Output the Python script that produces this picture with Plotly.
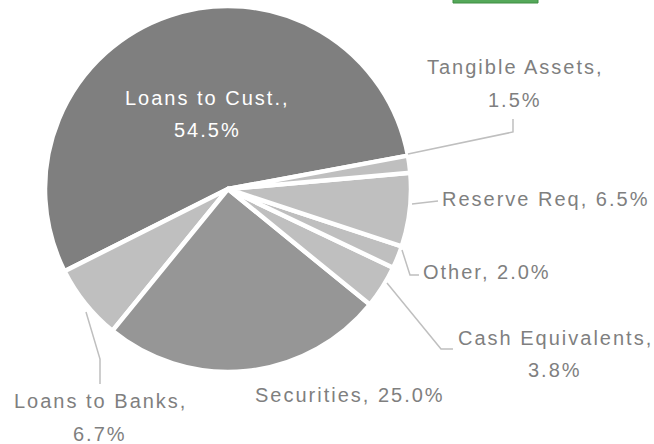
import plotly.graph_objects as go

W, H = 654, 444

# Asset mix (percent of total), listed counter-clockwise from the big slice
categories = ["Loans to Cust.", "Loans to Banks", "Securities", "Cash Equivalents",
              "Other", "Reserve Req", "Tangible Assets"]
shares = [54.5, 6.7, 25.0, 3.8, 2.0, 6.5, 1.5]
slice_colors = ["#7f7f7f", "#bfbfbf", "#969696", "#bfbfbf", "#bfbfbf", "#bfbfbf", "#bfbfbf"]

# Label placement in pixels: (centre x, first-line centre y, second-line gap or None)
label_pos = {
    "Loans to Cust.": (207, 98, 32),
    "Tangible Assets": (515, 67, 33),
    "Reserve Req": (546, 199, None),
    "Other": (487, 272, None),
    "Cash Equivalents": (555, 338, 32),
    "Securities": (350, 395, None),
    "Loans to Banks": (100, 401, 33),
}
inside_labels = {"Loans to Cust."}

# Leader line routes in pixels
leaders = {
    "Tangible Assets": [(408, 154), (513, 132), (513, 119)],
    "Reserve Req": [(412, 204), (438, 201)],
    "Other": [(402, 250), (410, 275), (419, 275)],
    "Cash Equivalents": [(387, 283), (441, 349), (453, 349)],
    "Loans to Banks": [(86, 312), (100, 359), (100, 384)],
}

FONT = "Liberation Sans, Arial, sans-serif"
TEXT_GREY = "#7f7f7f"

# The big slice ends (clockwise side) at 79.5 deg clockwise from 12 o'clock.
# With counter-clockwise direction plotly lays the first slice clockwise of
# the rotation angle, so shift rotation back by that slice's sweep.
BIG_SLICE_END = 79.5
rotation = BIG_SLICE_END - 360 * shares[0] / sum(shares)


def px(x):
    return x / W


def py(y):
    return 1 - y / H


fig = go.Figure(go.Pie(
    labels=categories,
    values=shares,
    sort=False,
    direction="counterclockwise",
    rotation=rotation,
    marker=dict(colors=slice_colors, line=dict(color="white", width=4.5)),
    textinfo="none",
    hoverinfo="label+percent",
    showlegend=False,
    domain=dict(x=[px(45), px(411)], y=[py(372), py(6)]),
))

annotations = []
for name, val in zip(categories, shares):
    cx, cy, gap = label_pos[name]
    colour = "white" if name in inside_labels else TEXT_GREY
    lines = [f"{name},", f"{val:.1f}%"] if gap else [f"{name}, {val:.1f}%"]
    for i, line in enumerate(lines):
        annotations.append(dict(
            x=px(cx), y=py(cy + (gap or 0) * i), xref="paper", yref="paper",
            text=line, showarrow=False, xanchor="center", yanchor="middle",
            font=dict(family=FONT, size=20, color=colour),
        ))

shapes = []
for name, pts in leaders.items():
    path = "M " + " L ".join(f"{px(x):.5f},{py(y):.5f}" for x, y in pts)
    shapes.append(dict(type="path", path=path, xref="paper", yref="paper",
                       line=dict(color="#bfbfbf", width=1.5)))

# green tab peeking in at the top edge
shapes.append(dict(type="rect", xref="paper", yref="paper",
                   x0=px(453), x1=px(538), y0=py(3), y1=py(-6),
                   fillcolor="#55a85a", line=dict(color="#3e8e43", width=1)))

fig.update_layout(
    width=W, height=H,
    margin=dict(l=0, r=0, t=0, b=0),
    paper_bgcolor="white", plot_bgcolor="white",
    annotations=annotations,
    shapes=shapes,
)

spacing_js = """
var gd = document.getElementById('{plot_id}');
gd.querySelectorAll('.annotation-text').forEach(function(t){ t.style.letterSpacing = '2px'; });
"""

fig.write_html("out.html", post_script=spacing_js)
